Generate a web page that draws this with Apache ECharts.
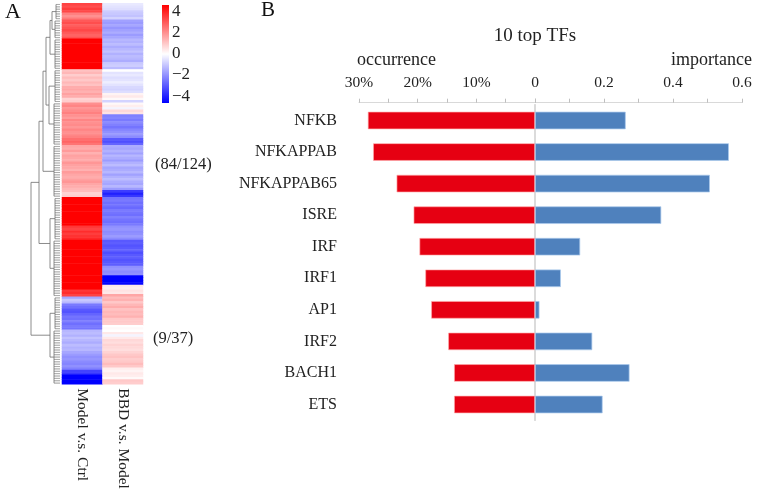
<!DOCTYPE html>
<html>
<head>
<meta charset="utf-8">
<script src="https://cdn.jsdelivr.net/npm/echarts@6/dist/echarts.min.js"></script>
<style>html,body{margin:0;padding:0;background:#fff;}#c{width:762px;height:493px;}</style>
</head>
<body>
<div id="c"></div>
<script>
// ---------- Panel A data ----------
const HEAT_COLUMNS = ['Model v.s. Ctrl', 'BBD v.s. Model'];
const MODEL_VS_CTRL = [
  3.4,3.2,3.5,3.3,
  2.3,2.0,2.4,
  3.0,3.2,2.9,3.1,3.3,3.0,2.8,3.1,
  4.8,4.9,5,5,4.8,5,5,4.9,5,5,4.8,5,4.9,
  1.1,1.3,0.9,1.2,1.0,1.3,1.1,1.5,1.6,1.4,1.7,1.5,0.8,0.9,
  2.0,2.2,1.9,2.1,2.3,2.0,1.8,2.2,2.0,2.1,1.9,2.2,2.0,2.1,2.3,2.6,2.8,2.5,
  1.6,1.5,1.8,1.4,1.7,1.6,1.5,1.9,1.7,1.6,1.4,1.8,1.6,1.5,1.7,1.9,1.6,1.5,1.3,
  1.2,0.8,0.9,
  4.8,5,5,4.9,5,5,4.8,5,5,4.9,5,4.8,
  3.6,3.4,3.8,3.5,3.7,3.9,
  5,4.9,5,5,4.8,5,5,4.9,5,5,4.8,5,5,4.9,5,5,4.8,5,4.9,5,5,
  3.6,3.8,3.4,
  -1.6,-1.0,-1.3,
  -2.4,-2.6,-3.0,-3.1,-2.8,-2.5,-2.6,
  -2.3,-2.6,-2.4,-2.5,
  -1.3,-1.2,-1.4,-1.1,-1.3,-1.5,-1.2,-1.4,-1.3,-1.6,
  -1.8,-2.0,-1.9,-2.1,-2.2,-2.0,-2.3,
  -3.4,-3.6,
  -4.8,-5,-5,-4.9
];
const BBD_VS_MODEL = [
  -0.4,-0.5,-0.6,
  -0.9,-1.0,-1.1,-0.8,
  -1.7,-1.8,-1.6,-1.9,-1.7,-1.5,-1.8,-1.6,
  -1.3,-1.4,-1.2,-1.5,-1.3,-1.1,-1.4,-1.2,-1.3,-1.5,-1.0,-0.9,-1.2,
  0.0,
  -0.5,-0.4,-0.6,-0.5,-0.3,-0.5,-0.7,-0.8,-0.6,
  0.2,0.4,0.1,
  -0.8,
  0.1,0.3,-0.2,
  0.7,0.5,
  -2.3,-2.2,-2.4,-2.1,-2.3,-2.5,-2.2,
  -2.0,-1.8,-2.1,
  -3.0,-3.2,-2.8,
  -1.5,-1.6,-1.4,-1.7,-1.3,-1.5,-1.8,-1.4,-1.2,-1.6,-1.5,-1.3,-1.7,-1.4,-1.2,-1.5,-1.6,-1.3,-1.8,
  -3.5,-4.0,-3.6,
  -2.5,-2.4,-2.6,-2.5,-2.7,-2.4,-2.5,-2.6,-2.3,-2.5,-2.6,-2.4,
  -2.0,-1.9,-2.1,-2.0,-1.8,-2.1,
  -3.0,-2.9,-3.1,-3.0,-2.8,-3.2,-3.0,-2.9,-3.1,-3.0,-2.9,
  -2.0,-1.9,-2.1,-2.0,
  -4.6,-4.8,-4.7,-4.5,
  0.4,0.3,0.5,0.4,
  1.6,
  1.2,1.4,1.0,1.3,1.5,1.1,1.3,1.2,1.4,1.0,
  1.0,0.9,
  0.0,0.1,0.0,
  0.4,-0.2,0.4,
  0.7,0.6,0.8,0.7,0.6,0.8,
  1.0,1.1,0.9,1.0,1.2,1.0,
  0.3,0.2,0.4,0.3,0.1,
  1.0,0.9
];
// dendrogram: leaf groups [firstRow, lastRow, height] and merges [childA, childB, height]
const DENDRO_GROUPS = [[0,6,4],[7,14,5],[15,27,5],[28,41,5],[42,59,6],[60,81,6],[82,99,5],[100,123,6],[124,137,5],[138,160,6]];
const DENDRO_MERGES = [
  ['g0','g1',8], ['m0','g2',10], ['g3','g4',11], ['m1','m2',14],
  ['m3','g5',17], ['g6','g7',10], ['m4','m5',21], ['g8','g9',10], ['m6','m7',29]
];
const COLORBAR_TICKS = [-4,-2,0,2,4];
const CLUSTER_NOTES = ['(84/124)', '(9/37)'];

// ---------- Panel B data ----------
const TF_NAMES = ['NFKB','NFKAPPAB','NFKAPPAB65','ISRE','IRF','IRF1','AP1','IRF2','BACH1','ETS'];
const OCCURRENCE = [28.5,27.6,23.6,20.7,19.7,18.7,17.7,14.8,13.8,13.8];
const IMPORTANCE = [0.263,0.562,0.507,0.366,0.131,0.075,0.013,0.166,0.274,0.196];

// ---------- build ----------
const SERIF = "'Times New Roman','Liberation Serif',serif";
const nRows = MODEL_VS_CTRL.length;
const heatData = [];
MODEL_VS_CTRL.forEach((v, r) => heatData.push([0, r, v]));
BBD_VS_MODEL.forEach((v, r) => heatData.push([1, r, v]));

const nodes = {};
const links = [];
DENDRO_GROUPS.forEach((g, i) => {
  const [a, b, h] = g;
  for (let r = a; r <= b; r++) links.push([r + 0.5, r + 0.5, 0, 0, h, 1]);
  links.push([a + 0.5, b + 0.5, h, h, h, 0]);
  nodes['g' + i] = { y: (a + b + 1) / 2, h: h };
});
DENDRO_MERGES.forEach((m, i) => {
  const A = nodes[m[0]], B = nodes[m[1]];
  links.push([A.y, B.y, A.h, B.h, m[2], 0]);
  nodes['m' + i] = { y: (A.y + B.y) / 2, h: m[2] };
});

const chart = echarts.init(document.getElementById('c'), null, { renderer: 'canvas' });
const hidden = { show: false };
const TXT = '#222';
const option = {
  animation: false,
  backgroundColor: '#fff',
  textStyle: { fontFamily: SERIF },
  grid: [
    { left: 62, top: 3.3, width: 81, height: 381 },      // heatmap
    { left: 29, top: 3.3, width: 31, height: 381 },      // dendrogram
    { left: 162, top: 5, width: 7, height: 98 },          // colorbar
    { left: 359, top: 104.7, width: 176, height: 315.6 }, // occurrence
    { left: 535, top: 104.7, width: 207, height: 315.6 }  // importance
  ],
  xAxis: [
    { gridIndex: 0, type: 'category', data: HEAT_COLUMNS, axisLine: hidden, axisTick: hidden,
      axisLabel: { rotate: -90, margin: 4, fontSize: 15.5, color: TXT, fontFamily: SERIF } },
    { gridIndex: 1, type: 'value', min: 0, max: 31, inverse: true, show: false },
    { gridIndex: 2, type: 'value', min: 0, max: 1, show: false },
    { gridIndex: 3, type: 'value', position: 'top', inverse: true, min: 0, max: 30, interval: 5, offset: 2,
      axisLine: { show: true, lineStyle: { color: '#d9d9d9', width: 1 } },
      axisTick: { show: true, length: 4, lineStyle: { color: '#bfbfbf' } },
      splitLine: hidden,
      axisLabel: { margin: 12, fontSize: 15.5, color: TXT, fontFamily: SERIF,
        formatter: v => (v > 0 && v % 10 === 0) ? v + '%' : '' } },
    { gridIndex: 4, type: 'value', position: 'top', min: 0, max: 0.6, interval: 0.1, offset: 2,
      axisLine: { show: true, lineStyle: { color: '#d9d9d9', width: 1 } },
      axisTick: { show: true, length: 4, lineStyle: { color: '#bfbfbf' } },
      splitLine: hidden,
      axisLabel: { margin: 12, fontSize: 15.5, color: TXT, fontFamily: SERIF, showMaxLabel: true,
        formatter: v => { const k = Math.round(v * 10); return k % 2 === 0 ? (k === 0 ? '0' : (k / 10).toFixed(1)) : ''; } } }
  ],
  yAxis: [
    { gridIndex: 0, type: 'category', data: MODEL_VS_CTRL.map((_, i) => i), inverse: true, show: false },
    { gridIndex: 1, type: 'value', min: 0, max: nRows, inverse: true, show: false },
    { gridIndex: 2, type: 'value', min: -4.65, max: 4.6, position: 'right',
      axisLine: hidden, axisTick: hidden, splitLine: hidden,
      axisLabel: { customValues: COLORBAR_TICKS, margin: 3, fontSize: 17, color: TXT, fontFamily: SERIF,
        formatter: v => v < 0 ? '\u2212' + (-v) : String(v) } },
    { gridIndex: 3, type: 'category', data: TF_NAMES, inverse: true, position: 'left', offset: 7,
      axisLine: { show: true, lineStyle: { color: '#d9d9d9', width: 1.5 } }, axisTick: hidden,
      axisLabel: { margin: 15, fontSize: 16, color: TXT, fontFamily: SERIF } },
    { gridIndex: 4, type: 'category', data: TF_NAMES, inverse: true, position: 'left',
      axisLine: { show: true, lineStyle: { color: '#d9d9d9', width: 1.5 } }, axisTick: hidden,
      axisLabel: hidden }
  ],
  visualMap: {
    show: false, type: 'continuous', min: -4.6, max: 4.6, seriesIndex: 0,
    inRange: { color: ['#0000ff', '#ffffff', '#ff0000'] }
  },
  series: [
    { type: 'heatmap', xAxisIndex: 0, yAxisIndex: 0, data: heatData, itemStyle: { borderWidth: 0 } },
    { type: 'custom', xAxisIndex: 1, yAxisIndex: 1, data: links, clip: false,
      encode: { x: [2, 3, 4], y: [0, 1] },
      renderItem: (params, api) => {
        const y1 = api.value(0), y2 = api.value(1), h1 = api.value(2), h2 = api.value(3), hm = api.value(4);
        const leaf = api.value(5) === 1;
        const pts = [api.coord([h1, y1]), api.coord([hm, y1]), api.coord([hm, y2]), api.coord([h2, y2])];
        return { type: 'polyline', shape: { points: pts },
          style: { stroke: leaf ? '#9a9a9a' : '#6e6e6e', lineWidth: leaf ? 0.6 : 0.8, fill: null } };
      } },
    { type: 'custom', xAxisIndex: 2, yAxisIndex: 2, data: [[4.6, -4.65]], clip: false,
      encode: { y: [0, 1] },
      renderItem: (params, api) => {
        const p1 = api.coord([0, api.value(0)]), p2 = api.coord([1, api.value(1)]);
        return { type: 'rect', shape: { x: p1[0], y: p1[1], width: p2[0] - p1[0], height: p2[1] - p1[1] },
          style: { fill: new echarts.graphic.LinearGradient(0, 0, 0, 1, [
            { offset: 0, color: '#ff0000' }, { offset: 0.5, color: '#ffffff' }, { offset: 1, color: '#0000ff' }]) } };
      } },
    { type: 'bar', xAxisIndex: 3, yAxisIndex: 3, data: OCCURRENCE, barWidth: 17.6,
      itemStyle: { color: '#e60012', borderColor: 'rgba(255,170,170,0.8)', borderWidth: 0.8 } },
    { type: 'bar', xAxisIndex: 4, yAxisIndex: 4, data: IMPORTANCE, barWidth: 17.6,
      itemStyle: { color: '#4f81bd', borderColor: 'rgba(170,200,235,0.9)', borderWidth: 0.8 } }
  ],
  graphic: [
    { type: 'text', left: 5, top: 1, style: { text: 'A', font: '22px ' + SERIF, fill: '#111' } },
    { type: 'text', left: 261, top: 0, style: { text: 'B', font: '21px ' + SERIF, fill: '#111' } },
    { type: 'text', x: 535, y: 36, style: { text: '10 top TFs', font: '19px ' + SERIF, fill: TXT, align: 'center', verticalAlign: 'middle' } },
    { type: 'text', x: 357, y: 60, style: { text: 'occurrence', font: '18px ' + SERIF, fill: TXT, align: 'left', verticalAlign: 'middle' } },
    { type: 'text', x: 752, y: 60, style: { text: 'importance', font: '18px ' + SERIF, fill: TXT, align: 'right', verticalAlign: 'middle' } },
    { type: 'text', x: 155, y: 165, style: { text: CLUSTER_NOTES[0], font: '16.5px ' + SERIF, fill: TXT, verticalAlign: 'middle' } },
    { type: 'text', x: 153, y: 339, style: { text: CLUSTER_NOTES[1], font: '16.5px ' + SERIF, fill: TXT, verticalAlign: 'middle' } }
  ]
};
chart.setOption(option);
</script>
</body>
</html>
